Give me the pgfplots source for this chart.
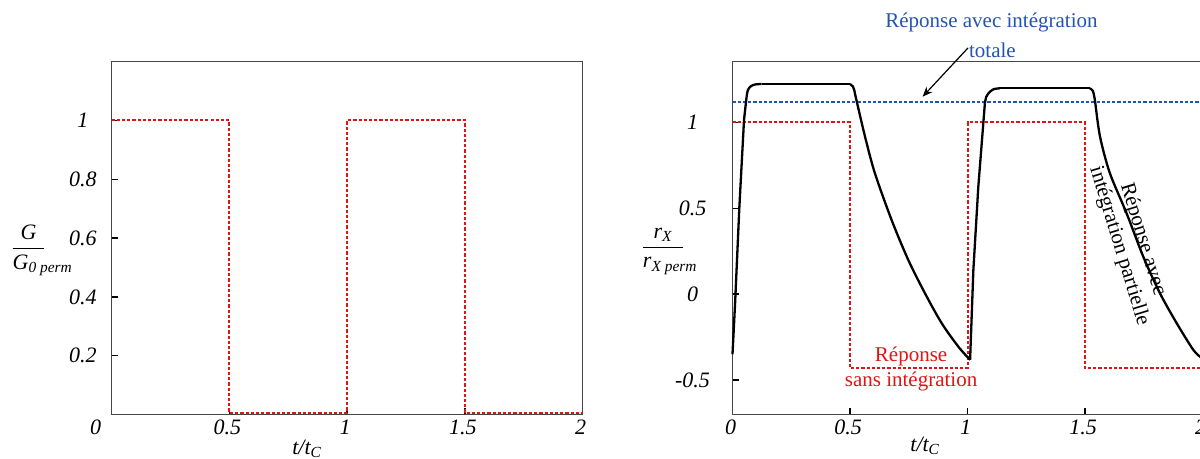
\documentclass[border=0pt]{standalone}
\usepackage{amsmath}
\usepackage{fontspec}
\setmainfont{Liberation Serif}
\usepackage{pgfplots}
\pgfplotsset{compat=1.18}
\usetikzlibrary{arrows.meta}
\definecolor{myred}{RGB}{225,20,20}
\definecolor{myblue}{RGB}{35,85,175}
\definecolor{axgray}{RGB}{70,70,70}
\pgfplotsset{
 mystyle/.style={
  scale only axis, xmin=0, xmax=2,
  axis line style={axgray, line width=0.75pt},
  tick style={black, line width=0.7pt},
  major tick length=3.2pt,
  tick align=inside, tick pos=left,
  /pgf/number format/assume math mode=true,
  tick label style={font=\fontsize{11}{13}\selectfont\itshape},
  xticklabel style={anchor=center, yshift=-6.4pt, xshift=-1pt},
  label style={font=\fontsize{11}{13}\selectfont},
  clip=false,
 },
 reddash/.style={myred, line width=1pt, dash pattern=on 1.6pt off 1pt},
 blackcurve/.style={black, line width=1.15pt},
}
\begin{document}
\begin{tikzpicture}
% ---------------- left axis ----------------
\begin{axis}[mystyle, at={(55.85pt,22.25pt)}, anchor=south west,
 width=235.5pt, height=176.4pt, ymin=0, ymax=1.2,
 xtick={0.5,1,1.5,2}, ytick={0.2,0.4,0.6,0.8,1},
 extra x ticks={0}, extra x tick style={major tick length=0pt, xticklabel style={xshift=-7pt}},
 yticklabel style={anchor=center, xshift=-14.35pt},
 xlabel={$\textit{t/t}_{\textit{C}}$},
 xlabel style={at={(axis description cs:0.415,0)}, anchor=center, yshift=-17pt},
 ylabel={$\dfrac{\textit{G}}{\makebox[15.8pt][l]{\textit{G}$_{\textit{0 perm}}$}}$},
 ylabel style={rotate=-90, at={(axis description cs:-0.1766,0.466)}, anchor=center},
]
\addplot[reddash] coordinates {(0,1)(0.5,1)(0.5,0.005)(1,0.005)(1,1)(1.5,1)(1.5,0.005)(2,0.005)};
\end{axis}
% ---------------- right axis ----------------
\begin{axis}[mystyle, at={(366.25pt,22.35pt)}, anchor=south west,
 width=235pt, height=176.3pt, ymin=-0.7, ymax=1.354,
 xtick={0,0.5,1,1.5,2}, ytick={-0.5,0,0.5,1},
 yticklabel style={anchor=center, xshift=-20pt},
 xlabel={$\textit{t/t}_{\textit{C}}$},
 xlabel style={at={(axis description cs:0.41,0)}, anchor=center, yshift=-15.8pt},
 ylabel={$\dfrac{\textit{r}_{\textit{X}}}{\makebox[20pt][l]{\textit{r}$_{\textit{X perm}}$}}$},
 ylabel style={rotate=-90, at={(axis description cs:-0.1479,0.463)}, anchor=center},
]
\addplot[myblue, line width=1pt, dash pattern=on 1.6pt off 1pt] coordinates {(0,1.121)(2,1.121)};
\addplot[reddash] coordinates {(0,1)(0.5,1)(0.5,-0.43)(1,-0.43)(1,1)(1.5,1)(1.5,-0.43)(2,-0.43)};
% cycle 1
\addplot[blackcurve] coordinates {(0,-0.35)(0.011,-0.053)(0.029,0.502)(0.049,1.015)(0.06,1.15)};
\addplot[blackcurve, smooth, tension=0.6] coordinates {(0.06,1.15)(0.066,1.19)(0.08,1.213)(0.1,1.222)(0.124,1.224)};
\addplot[blackcurve] coordinates {(0.124,1.224)(0.500,1.224)};
\addplot[blackcurve, smooth, tension=0.5] coordinates {(0.500,1.224)(0.512,1.210)(0.518,1.19)(0.524,1.15)(0.564,0.917)(0.606,0.704)(0.677,0.432)(0.748,0.199)(0.819,0.005)(0.890,-0.169)(0.961,-0.306)(1.011,-0.383)};
% cycle 2
\addplot[blackcurve] coordinates {(1.011,-0.383)(1.025,0.142)(1.046,0.626)(1.074,1.112)};
\addplot[blackcurve, smooth, tension=0.6] coordinates {(1.074,1.112)(1.080,1.15)(1.089,1.170)(1.110,1.193)(1.138,1.199)};
\addplot[blackcurve] coordinates {(1.138,1.199)(1.521,1.199)};
\addplot[blackcurve, smooth, tension=0.5] coordinates {(1.521,1.199)(1.533,1.185)(1.538,1.16)(1.543,1.121)(1.564,0.917)(1.606,0.704)(1.677,0.471)(1.748,0.218)(1.819,0.005)(1.890,-0.169)(1.961,-0.325)(1.995,-0.37)};
% annotations
\node[myblue, font=\fontsize{10.5}{12}\selectfont] at (axis cs:1.102,1.580) {Réponse avec intégration};
\node[myblue, font=\fontsize{10.5}{12}\selectfont] at (axis cs:1.106,1.422) {totale};
\draw[-{Stealth[length=5pt,width=4pt]}, line width=0.6pt] (axis cs:1.002,1.434) -- (axis cs:0.809,1.150);
\node[myred, align=center, font=\fontsize{10.5}{12.3}\selectfont] at (axis cs:0.760,-0.437) {Réponse\\sans intégration};
\node[black, align=center, rotate=-73, font=\fontsize{10.5}{12.3}\selectfont] at (axis cs:1.695,0.300) {Réponse avec\\intégration partielle};
\end{axis}
\pgfresetboundingbox
\path[use as bounding box] (0,0) rectangle (600pt,229.5pt);
\end{tikzpicture}
\end{document}
